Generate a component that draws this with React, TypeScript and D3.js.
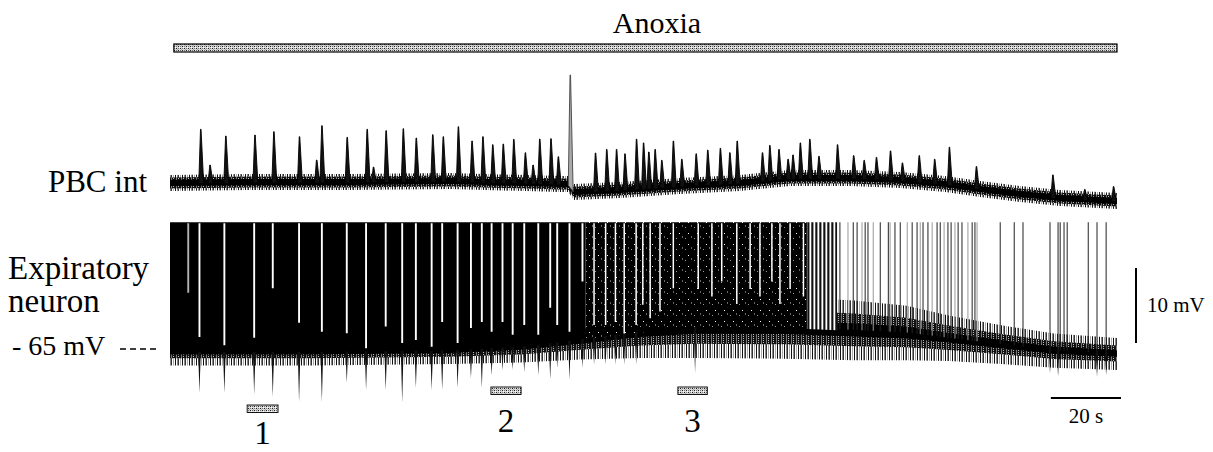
import React, { useEffect, useRef } from "react";
import * as d3 from "d3";

const T_END = 270; // s, whole recording

// PBC int: inspiratory burst times (s) and peak heights (a.u.)
const pbcBurstTimes = [8.75, 15.9, 24.2, 29.6, 36.9, 43.3, 50.5, 56.2, 61.6, 66.5, 70.2, 74.9, 77.9, 82.2, 86.1, 89.2, 92.0, 95.0, 98.0, 101.3, 105.4, 108.6, 110.7, 114.1, 121.3, 124.5, 127.3, 129.7, 133.0, 135.0, 136.5, 138.3, 140.2, 143.5, 145.9, 150.0, 153.3, 156.9, 159.6, 161.7, 168.9, 171.0, 173.6, 176.2, 177.6, 179.7, 182.4, 185.0, 190.3, 194.9, 197.9, 201.4, 205.4, 208.8, 213.6, 218.0, 222.2, 229.9, 251.7, 260.8, 269.0];
const pbcBurstPeaks = [80.7, 74, 75, 78.3, 73.3, 84.3, 72.7, 80.7, 79.3, 81.3, 72, 75.3, 73.3, 83.3, 69, 73.3, 65.3, 66, 70.7, 57.3, 71, 71.3, 53.3, 135, 57, 60.6, 60.6, 56.2, 70.8, 67.1, 58, 60.6, 49.7, 69, 50.8, 56.2, 59.9, 61.7, 57.3, 69, 57.3, 64.6, 60.6, 50.8, 55.1, 67.1, 70.8, 53.7, 65.3, 54.4, 49.7, 52.6, 59.1, 47.1, 54.4, 50.8, 62.8, 43.5, 35.1, 20.6, 23.5];
const pbcMinorTimes = [11.4, 41.8, 58.0, 103.5];
const pbcMinorPeaks = [45, 50, 43, 45];
// PBC int baseline drift
const pbcBaseT = [0, 22.8, 51.3, 79.8, 111.2, 113.5, 115.2, 128.3, 145.4, 162.5, 176.8, 193.9, 208.2, 221, 231, 242.4, 253.8, 270];
const pbcBaseV = [27, 28, 28, 29, 26, 26, 18, 20, 24, 27, 32, 32, 30, 26, 21, 16, 12, 9];

// Expiratory neuron: membrane noise envelope (mV)
const envT = [0, 40, 80, 100, 117, 134, 150, 175, 195, 210, 222, 237, 252, 270];
const envUpper = [-64.0, -64.0, -63.8, -63.0, -61.5, -59.5, -58.3, -58.3, -58.8, -59.5, -60.8, -62.1, -63.2, -63.8];
const envLower = [-66.8, -66.8, -66.6, -66.4, -66.0, -65.8, -65.8, -65.9, -66.1, -66.1, -66.2, -66.6, -67.1, -67.4];
const spikeTop = -48.1; // spikes clipped by the recorder

// tonic firing epochs
const denseStart = [0, 118.5, 181.6];
const denseEnd = [118.5, 181.6, 190.2];
const denseKind = ["solid", "speckle", "gray"];

// pauses in firing during inspiration (time, lowest point of the pause in mV)
const gapTimes = [5.2, 8.4, 15.5, 24.0, 29.3, 36.8, 43.3, 50.4, 55.9, 61.5, 66.2, 70.1, 74.6, 77.6, 82.0, 85.8, 88.9, 91.7, 94.8, 97.7, 101.0, 105.0, 108.4, 110.4, 113.9, 117.6, 120.9, 124.2, 127.0, 129.5, 132.9, 134.8, 136.9, 139.7, 143.5, 150.6, 154.5, 157.3, 161.6, 165.4, 168.2, 171.6, 173.9, 176.8, 180.6];
const gapDepth = [-57.5, -63.4, -64.5, -63.5, -56.9, -61.5, -62.7, -62.9, -64.9, -62.0, -64.2, -63.8, -64.7, -61.4, -64.2, -62.2, -61.4, -62.7, -61.4, -63.1, -61.8, -63.1, -59.5, -61.8, -62.7, -56.0, -61.8, -61.8, -61.4, -63.1, -61.8, -59.1, -60.9, -60.0, -56.9, -57, -58, -56, -59, -57, -58, -56, -59, -57, -58];

// inhibitory potentials (time, peak mV)
const ipspTimes = [8.4, 15.5, 24.0, 29.3, 36.8, 43.3, 50.4, 55.9, 61.5, 66.2, 70.1, 74.6, 77.6, 82.0, 85.8, 88.9, 91.7, 94.8, 97.7, 101.0, 105.0, 108.4, 110.4, 113.9, 117.6, 120.9, 124.2, 127.0, 129.5, 132.9, 149.7, 250.9, 253.2, 264.3, 266.9];
const ipspDepth = [-70.9, -70.9, -71.1, -71.4, -72.1, -72.1, -69.5, -70.5, -70.5, -72.2, -70.2, -70.5, -70.5, -70.2, -68.9, -70.2, -68.5, -67.8, -67.8, -68.1, -68.5, -69.1, -67.5, -69.1, -67.5, -67.1, -67.1, -67.1, -67.1, -67.1, -68.2, -68.2, -68.7, -68.7, -68.5];

// single spikes once firing thins out
const spikeTimes = [191.0, 193.3, 194.8, 195.9, 197.3, 198.2, 199.0, 200.5, 202.5, 204.8, 205.3, 206.7, 208.2, 210.2, 211.6, 213.0, 213.9, 214.7, 216.1, 217.3, 218.7, 219.6, 220.7, 221.8, 222.7, 223.8, 224.7, 225.8, 227.5, 228.7, 229.5, 230.1, 236.7, 240.7, 243.2, 250.9, 253.2, 253.8, 254.9, 255.8, 261.8, 264.3, 266.9];

// stimulus / analysis windows
const anoxiaStart = 1.1;
const anoxiaEnd = 270;
const windowLabels = ["1", "2", "3"];
const windowStart = [22.0, 91.5, 144.8];
const windowEnd = [30.8, 100.1, 153.2];

const FONT = "'Liberation Serif', 'Times New Roman', serif";

const App = () => {
  const svgRef = useRef<SVGSVGElement>(null);

  useEffect(() => {
    const svg = d3.select(svgRef.current);
    svg.selectAll("*").remove();

    const x = d3.scaleLinear().domain([0, T_END]).range([170, 1117]);
    const yP = d3.scaleLinear().domain([0, 140]).range([210, 70]);
    const yN = d3.scaleLinear().domain([-65, -55]).range([349, 274]);

    const pbcBase = d3.scaleLinear().domain(pbcBaseT).range(pbcBaseV).clamp(true);
    const upAt = d3.scaleLinear().domain(envT).range(envUpper).clamp(true);
    const loAt = d3.scaleLinear().domain(envT).range(envLower).clamp(true);
    const midAt = (t: number) => (upAt(t) + loAt(t)) / 2;

    // textures
    const defs = svg.append("defs");
    const pat = (id: string, w: number, h: number, bg: string | null, rects: any[]) => {
      const p = defs
        .append("pattern")
        .attr("id", id)
        .attr("width", w)
        .attr("height", h)
        .attr("patternUnits", "userSpaceOnUse");
      if (bg) p.append("rect").attr("width", w).attr("height", h).attr("fill", bg);
      rects.forEach(([rx, ry, rw, rh, c]) =>
        p.append("rect").attr("x", rx).attr("y", ry).attr("width", rw).attr("height", rh).attr("fill", c)
      );
    };
    pat("stipple", 4, 4, "#d8d8d8", [
      [0, 0, 1, 1, "#222"], [2, 2, 1, 1, "#222"], [2, 0, 1, 1, "#777"],
      [0, 2, 1, 1, "#777"], [1, 1, 1, 1, "#aaa"], [3, 3, 1, 1, "#fff"],
    ]);
    pat("noiseLight", 7, 2, null, [
      [0, 0, 1, 2, "#111"], [2, 0, 1, 2, "#888"], [3, 0, 1, 2, "#333"], [5, 0, 1, 2, "#aaa"],
    ]);
    pat("noiseDense", 5, 2, "#111", [[1, 0, 1, 2, "#777"], [3, 0, 1, 1, "#bbb"]]);
    pat("speckle", 9, 11, "#000", [
      [4, 2, 1, 1, "#fff"], [1, 7, 1, 1, "#999"], [7, 5, 1, 2, "#666"],
    ]);
    pat("grayzone", 4, 3, "#999", [[0, 0, 1, 3, "#111"], [2, 0, 1, 3, "#fff"], [3, 0, 1, 3, "#555"]]);

    const band = (ts: number[], lo: (t: number) => number, hi: (t: number) => number) =>
      d3.area<number>().x((t) => x(t)).y0(lo).y1(hi)(ts);

    // Anoxia bar
    svg
      .append("rect")
      .attr("x", x(anoxiaStart))
      .attr("y", 44)
      .attr("width", x(anoxiaEnd) - x(anoxiaStart))
      .attr("height", 8)
      .attr("fill", "url(#stipple)")
      .attr("stroke", "#000")
      .attr("stroke-width", 1.2);

    svg
      .append("text")
      .attr("x", 657)
      .attr("y", 33)
      .attr("text-anchor", "middle")
      .style("font-family", FONT)
      .style("font-size", "30px")
      .text("Anoxia");

    // ---- PBC int ----
    const gP = svg.append("g");
    [
      [8, "url(#noiseLight)"],
      [5.5, "url(#noiseDense)"],
      [3, "#000"],
    ].forEach(([k, fill]) => {
      gP.append("path")
        .attr("d", band(pbcBaseT, (t) => yP(pbcBase(t)) + (k as number), (t) => yP(pbcBase(t)) - (k as number)))
        .attr("fill", fill as string);
    });

    const burstPath = (t: number, peak: number) => {
      const a = Math.max(0, t - 0.55);
      const b = Math.min(T_END, t + 0.85);
      return d3.line()([
        [x(a), yP(pbcBase(a)) + 1],
        [x(t - 0.05), yP(peak)],
        [x(t + 0.1), yP(peak)],
        [x(b), yP(pbcBase(b)) + 1],
      ]) + "Z";
    };
    const bursts = pbcBurstTimes
      .map((t, i) => ({ t, p: pbcBurstPeaks[i] }))
      .concat(pbcMinorTimes.map((t, i) => ({ t, p: pbcMinorPeaks[i] })));
    gP.selectAll("path.burst")
      .data(bursts)
      .join("path")
      .attr("class", "burst")
      .attr("d", (d) => burstPath(d.t, d.p))
      .attr("fill", (d) => (d.p > 100 ? "#aaa" : "#111"))
      .attr("stroke", (d) => (d.p > 100 ? "#444" : "#000"))
      .attr("stroke-width", 0.9);

    svg
      .append("text")
      .attr("x", 147)
      .attr("y", 192)
      .attr("text-anchor", "end")
      .style("font-family", FONT)
      .style("font-size", "31px")
      .text("PBC int");

    // ---- Expiratory neuron ----
    const gN = svg.append("g");
    const w = (t: number) => upAt(t) - loAt(t);
    gN.append("path")
      .attr("d", band(envT, (t) => yN(loAt(t)) + 3, (t) => yN(upAt(t)) - 2))
      .attr("fill", "url(#noiseLight)");
    gN.append("path")
      .attr("d", band(envT, (t) => yN(loAt(t) + 0.2 * w(t)), (t) => yN(upAt(t) - 0.2 * w(t))))
      .attr("fill", "url(#noiseDense)");
    gN.append("path")
      .attr("d", band(envT, (t) => yN(loAt(t) + 0.38 * w(t)), (t) => yN(upAt(t) - 0.38 * w(t))))
      .attr("fill", "#000");

    const kindFill: Record<string, string> = { solid: "#000", speckle: "url(#speckle)", gray: "url(#grayzone)" };
    denseStart.forEach((t0, i) => {
      const t1 = denseEnd[i];
      const ts = [t0, ...envT.filter((t) => t > t0 && t < t1), t1];
      gN.append("path")
        .attr("d", band(ts, (t) => yN(midAt(t)) + 1, () => yN(spikeTop)))
        .attr("fill", kindFill[denseKind[i]]);
    });

    // pauses during inspiration
    gN.selectAll("line.gap")
      .data(gapTimes.map((t, i) => ({ t, d: gapDepth[i] })))
      .join("line")
      .attr("class", "gap")
      .attr("x1", (d) => x(d.t))
      .attr("x2", (d) => x(d.t))
      .attr("y1", yN(spikeTop) + 1)
      .attr("y2", (d) => yN(d.d))
      .attr("stroke", "#fff")
      .attr("stroke-width", (d) => (d.t < 118 ? 1.9 : 1.5))
      .attr("opacity", (d, i) => (i === 0 ? 0.7 : 1));

    // IPSPs
    gN.selectAll("path.ipsp")
      .data(ipspTimes.map((t, i) => ({ t, d: ipspDepth[i] })))
      .join("path")
      .attr("class", "ipsp")
      .attr("d", (d) =>
        d3.line()([
          [x(d.t) - 1.3, yN(midAt(d.t))],
          [x(d.t), yN(d.d)],
          [x(d.t) + 1.3, yN(midAt(d.t))],
        ]) + "Z"
      )
      .attr("fill", "#111");

    // sparse spikes
    gN.selectAll("line.spike")
      .data(spikeTimes)
      .join("line")
      .attr("class", "spike")
      .attr("x1", (t) => x(t))
      .attr("x2", (t) => x(t))
      .attr("y1", (t) => yN(midAt(t)))
      .attr("y2", yN(spikeTop))
      .attr("stroke", (t, i) => (t < 232 && i % 3 === 1 ? "#999" : "#222"))
      .attr("stroke-width", 1);

    const label = (txt: string, lx: number, ly: number, size: number) =>
      svg
        .append("text")
        .attr("x", lx)
        .attr("y", ly)
        .style("font-family", FONT)
        .style("font-size", `${size}px`)
        .text(txt);
    label("Expiratory", 8, 279, 33);
    label("neuron", 8, 312, 33);
    label("- 65 mV", 12, 355, 28);
    svg
      .append("line")
      .attr("x1", 120)
      .attr("x2", 158)
      .attr("y1", yN(-65))
      .attr("y2", yN(-65))
      .attr("stroke", "#000")
      .attr("stroke-width", 1.5)
      .attr("stroke-dasharray", "6 4");

    // scale bars
    const mvTop = yN(-54.2);
    const mvBot = yN(-64.2);
    svg
      .append("line")
      .attr("x1", 1136)
      .attr("x2", 1136)
      .attr("y1", mvTop)
      .attr("y2", mvBot)
      .attr("stroke", "#000")
      .attr("stroke-width", 2);
    label("10 mV", 1147, 312, 21);

    const secRight = x(T_END) + 4;
    const secLeft = secRight - (x(20) - x(0));
    svg
      .append("line")
      .attr("x1", secLeft)
      .attr("x2", secRight)
      .attr("y1", 398)
      .attr("y2", 398)
      .attr("stroke", "#000")
      .attr("stroke-width", 2);
    svg
      .append("text")
      .attr("x", (secLeft + secRight) / 2)
      .attr("y", 423)
      .attr("text-anchor", "middle")
      .style("font-family", FONT)
      .style("font-size", "21px")
      .text("20 s");

    // numbered windows
    const rowY = [405, 387, 387];
    windowLabels.forEach((lab, i) => {
      const x0 = x(windowStart[i]);
      const x1 = x(windowEnd[i]);
      svg
        .append("rect")
        .attr("x", x0)
        .attr("y", rowY[i])
        .attr("width", x1 - x0)
        .attr("height", 7.5)
        .attr("fill", "url(#stipple)")
        .attr("stroke", "#000")
        .attr("stroke-width", 0.9);
      svg
        .append("text")
        .attr("x", (x0 + x1) / 2)
        .attr("y", Math.min(rowY[i] + 45, 444))
        .attr("text-anchor", "middle")
        .style("font-family", FONT)
        .style("font-size", "33px")
        .text(lab);
    });
  }, []);

  return (
    <div style={{ position: "absolute", left: 0, top: 0, width: 1213, height: 452, background: "#fff" }}>
      <svg ref={svgRef} width={1213} height={452}></svg>
    </div>
  );
};

export default App;
